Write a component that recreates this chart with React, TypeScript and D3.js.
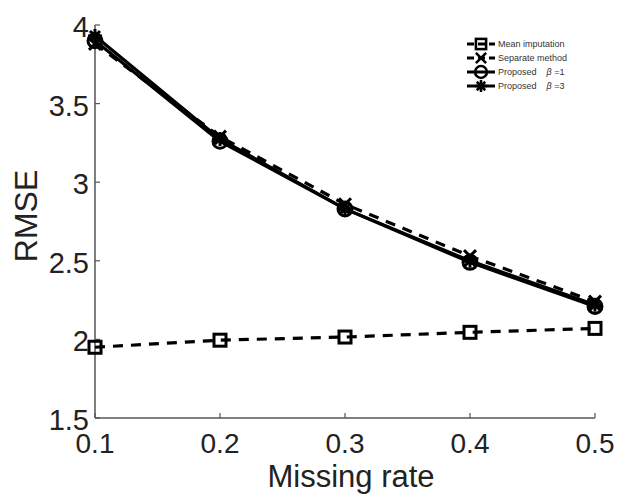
import React from 'react';
import * as d3 from 'd3';

const missingRates = [0.1, 0.2, 0.3, 0.4, 0.5];
const meanImputation = [1.95, 1.995, 2.015, 2.045, 2.07];
const separateMethod = [3.88, 3.29, 2.86, 2.53, 2.24];
const proposedB1 = [3.9, 3.26, 2.83, 2.49, 2.21];
const proposedB3 = [3.93, 3.275, 2.83, 2.5, 2.22];
const xTicks = [0.1, 0.2, 0.3, 0.4, 0.5];
const yTicks = [1.5, 2, 2.5, 3, 3.5, 4];

const seriesList = [
  { name: 'Mean imputation', values: meanImputation, dashed: true, marker: 'square' },
  { name: 'Separate method', values: separateMethod, dashed: true, marker: 'x' },
  { name: 'Proposed', beta: '1', values: proposedB1, dashed: false, marker: 'circle' },
  { name: 'Proposed', beta: '3', values: proposedB3, dashed: false, marker: 'star' },
];

const font = '"Liberation Sans", Arial, Helvetica, sans-serif';

function Marker({ type, x, y, s = 1 }: { type: string; x: number; y: number; s?: number }) {
  if (type === 'square') {
    const h = 6 * s;
    return <rect x={x - h} y={y - h} width={2 * h} height={2 * h} fill="none" stroke="#000" strokeWidth={3 * s} />;
  }
  if (type === 'circle') {
    return <circle cx={x} cy={y} r={7 * s} fill="none" stroke="#000" strokeWidth={3 * s} />;
  }
  if (type === 'x') {
    const h = 6 * s;
    return (
      <path d={`M${x - h},${y - h}L${x + h},${y + h}M${x - h},${y + h}L${x + h},${y - h}`} stroke="#000" strokeWidth={3 * s} />
    );
  }
  const h = 7 * s;
  const d = 5 * s;
  return (
    <path
      d={`M${x - h},${y}L${x + h},${y}M${x},${y - h}L${x},${y + h}M${x - d},${y - d}L${x + d},${y + d}M${x - d},${y + d}L${x + d},${y - d}`}
      stroke="#000"
      strokeWidth={3 * s}
    />
  );
}

export default function App() {
  const width = 620;
  const height = 495;
  const margin = { top: 25, right: 25, bottom: 77, left: 95 };

  const x = d3.scaleLinear().domain([0.1, 0.5]).range([margin.left, width - margin.right]);
  const y = d3.scaleLinear().domain([1.5, 4]).range([height - margin.bottom, margin.top]);

  const line = d3.line<number>()
    .x((_, i) => x(missingRates[i]))
    .y(d => y(d));

  const axisY = height - margin.bottom;
  const legendX = 467;
  const legendY = 44;

  return (
    <svg width={width} height={height} style={{ position: 'absolute', left: 0, top: 0, background: '#fff' }}>
      <rect width={width} height={height} fill="#fff" />
      {/* axes */}
      <line x1={margin.left} x2={width - margin.right} y1={axisY} y2={axisY} stroke="#555" strokeWidth={1.5} />
      <line x1={margin.left} x2={margin.left} y1={margin.top} y2={axisY} stroke="#555" strokeWidth={1.5} />
      {xTicks.map(t => (
        <g key={'x' + t}>
          <line x1={x(t)} x2={x(t)} y1={axisY} y2={axisY - 5} stroke="#555" strokeWidth={1.2} />
          <text x={x(t)} y={axisY + 35} textAnchor="middle" fontFamily={font} fontSize={28} fill="#222">
            {t.toString()}
          </text>
        </g>
      ))}
      {yTicks.map(t => (
        <g key={'y' + t}>
          <line x1={margin.left} x2={margin.left + 5} y1={y(t)} y2={y(t)} stroke="#555" strokeWidth={1.2} />
          <text x={margin.left - 6} y={y(t) + 12} textAnchor="end" fontFamily={font} fontSize={29} fill="#222">
            {t.toString()}
          </text>
        </g>
      ))}
      <text x={351} y={487} textAnchor="middle" fontFamily={font} fontSize={31} fill="#222">
        Missing rate
      </text>
      <text
        transform="translate(37,216) rotate(-90)"
        textAnchor="middle"
        fontFamily={font}
        fontSize={32}
        fill="#222"
      >
        RMSE
      </text>

      {/* series */}
      {seriesList.map((s, si) => (
        <g key={'s' + si}>
          <path
            d={line(s.values) || ''}
            fill="none"
            stroke="#000"
            strokeWidth={3.2}
            strokeDasharray={s.dashed ? '10,8' : undefined}
          />
          {s.values.map((v, i) => (
            <Marker key={i} type={s.marker} x={x(missingRates[i])} y={y(v)} />
          ))}
        </g>
      ))}

      {/* legend */}
      {seriesList.map((s, i) => {
        const ly = legendY + i * 14;
        return (
          <g key={'l' + i}>
            <line
              x1={legendX}
              x2={legendX + 28}
              y1={ly}
              y2={ly}
              stroke="#000"
              strokeWidth={3}
              strokeDasharray={s.dashed ? '7,4' : undefined}
            />
            <Marker type={s.marker} x={legendX + 14} y={ly} s={0.85} />
            <text x={legendX + 31} y={ly + 3} fontFamily={font} fontSize={9} fill="#333">
              {s.name}
              {s.beta ? (
                <>
                  <tspan dx={10} fontStyle="italic">β</tspan>
                  <tspan> ={s.beta}</tspan>
                </>
              ) : null}
            </text>
          </g>
        );
      })}
    </svg>
  );
}
